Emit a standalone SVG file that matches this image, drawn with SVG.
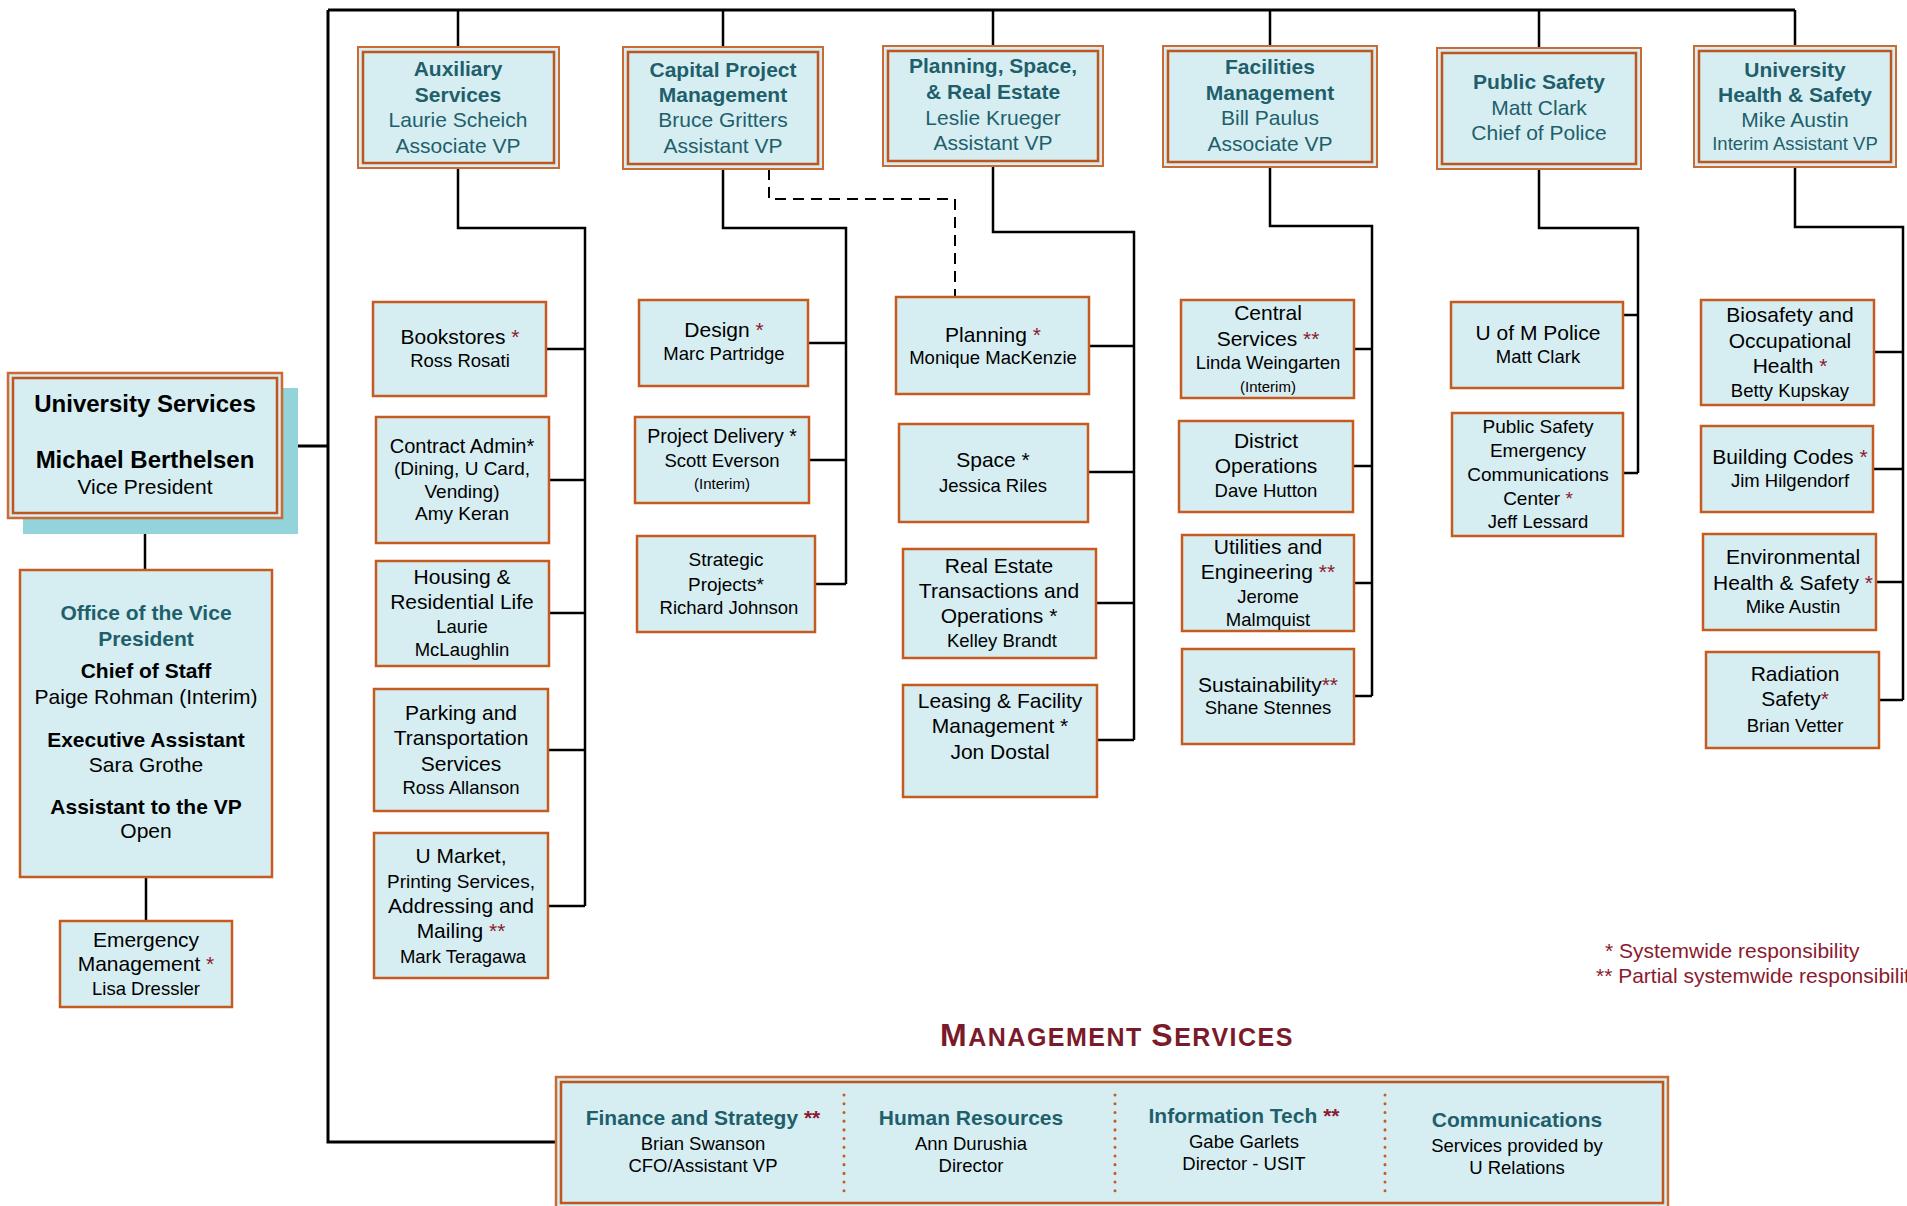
<svg xmlns="http://www.w3.org/2000/svg" width="1907" height="1206" viewBox="0 0 1907 1206">
<style>
.bg{fill:#ffffff}
.box{fill:#D6EEF2;stroke:#C65B20;stroke-width:2.5}
.outer{fill:#D6EEF2;stroke:#CB6A32;stroke-width:2}
.inner{fill:none;stroke:#C0561E;stroke-width:2.5}
.shadow{fill:#93D3DA}
text{font-family:"Liberation Sans",Arial,sans-serif;text-anchor:middle;fill:#000}
.hd{font-weight:bold;fill:#1F5F6B;font-size:21px}
.nm{fill:#1F5F6B;font-size:21px}
.b{font-weight:bold}
.s{fill:#8B1A2E}
.f21{font-size:21px}
.f19{font-size:19px}
.f18{font-size:18.5px}
.f15{font-size:15px}
.ln{stroke:#000;stroke-width:2.5;fill:none}
.bus{stroke:#000;stroke-width:3;fill:none}
.dash{stroke:#000;stroke-width:2;fill:none;stroke-dasharray:11 7}
.dot{stroke:#C65B20;stroke-width:3;stroke-linecap:round;stroke-dasharray:0.1 8.6;fill:none}
.leg{fill:#8B1A2E;font-size:21px;text-anchor:start}
.ttl{fill:#7A1A2B;font-weight:bold}
</style>
<rect class="bg" x="0" y="0" width="1907" height="1206"/>

<g id="connectors">
  <path class="bus" d="M328,10 H1795 M328,10 V1142 H556 M281,446 H328"/>
  <path class="ln" d="M458,10 V47 M723,10 V47 M993,10 V46 M1270,10 V46 M1539,10 V48 M1795,10 V46"/>
  <path class="ln" d="M145,518 V570 M146,877 V921"/>
  <path class="ln" d="M458,168 V228 H585 V906 M546,349 H585 M549,480 H585 M549,613 H585 M548,750 H585 M548,906 H585"/>
  <path class="ln" d="M723,169 V228 H846 V584 M808,343 H846 M809,460 H846 M815,584 H846"/>
  <path class="dash" d="M769,169 V199 H955 V297"/>
  <path class="ln" d="M993,166 V232 H1134 V740 M1089,346 H1134 M1088,472 H1134 M1096,603 H1134 M1097,740 H1134"/>
  <path class="ln" d="M1270,167 V226 H1372 V696 M1354,349 H1372 M1353,466 H1372 M1354,583 H1372 M1354,696 H1372"/>
  <path class="ln" d="M1539,169 V228 H1638 V473 M1623,315 H1638 M1623,473 H1638"/>
  <path class="ln" d="M1795,167 V227 H1903 V700 M1874,352 H1903 M1873,469 H1903 M1876,582 H1903 M1879,700 H1903"/>
</g>

<g id="vp">
  <rect class="shadow" x="23" y="388" width="275" height="146"/>
  <rect class="outer" x="8" y="373" width="274" height="145" style="stroke-width:2.5"/>
  <rect class="inner" x="13" y="378" width="264" height="135"/>
  <text x="145" y="412" class="b" style="font-size:24px">University Services</text>
  <text x="145" y="468" class="b" style="font-size:24px">Michael Berthelsen</text>
  <text x="145" y="494" class="f21">Vice President</text>
</g>

<g id="office">
  <rect class="box" x="20" y="570" width="252" height="307"/>
  <text x="146" y="620" class="hd">Office of the Vice</text>
  <text x="146" y="646" class="hd">President</text>
  <text x="146" y="678" class="b f21">Chief of Staff</text>
  <text x="146" y="704" class="f21">Paige Rohman (Interim)</text>
  <text x="146" y="747" class="b f21">Executive Assistant</text>
  <text x="146" y="772" class="f21">Sara Grothe</text>
  <text x="146" y="814" class="b f21">Assistant to the VP</text>
  <text x="146" y="838" class="f21">Open</text>
</g>

<g id="emergency">
  <rect class="box" x="60" y="921" width="172" height="86"/>
  <text x="146" y="947" class="f21">Emergency</text>
  <text x="146" y="971" class="f21">Management <tspan class="s">*</tspan></text>
  <text x="146" y="995" class="f18">Lisa Dressler</text>
</g>

<g id="auxiliary">
  <rect class="outer" x="358" y="47" width="201" height="121"/>
  <rect class="inner" x="363" y="52" width="191" height="111"/>
  <text x="458" y="76" class="hd">Auxiliary</text>
  <text x="458" y="102" class="hd">Services</text>
  <text x="458" y="127" class="nm">Laurie Scheich</text>
  <text x="458" y="153" class="nm">Associate VP</text>
</g>

<g id="capital">
  <rect class="outer" x="623" y="47" width="200" height="122"/>
  <rect class="inner" x="628" y="52" width="190" height="112"/>
  <text x="723" y="77" class="hd">Capital Project</text>
  <text x="723" y="102" class="hd">Management</text>
  <text x="723" y="127" class="nm">Bruce Gritters</text>
  <text x="723" y="153" class="nm">Assistant VP</text>
</g>

<g id="planning-space">
  <rect class="outer" x="883" y="46" width="220" height="120"/>
  <rect class="inner" x="888" y="51" width="210" height="110"/>
  <text x="993" y="73" class="hd">Planning, Space,</text>
  <text x="993" y="99" class="hd">&amp; Real Estate</text>
  <text x="993" y="125" class="nm">Leslie Krueger</text>
  <text x="993" y="150" class="nm">Assistant VP</text>
</g>

<g id="facilities">
  <rect class="outer" x="1163" y="46" width="214" height="121"/>
  <rect class="inner" x="1168" y="51" width="204" height="111"/>
  <text x="1270" y="74" class="hd">Facilities</text>
  <text x="1270" y="100" class="hd">Management</text>
  <text x="1270" y="125" class="nm">Bill Paulus</text>
  <text x="1270" y="151" class="nm">Associate VP</text>
</g>

<g id="public-safety">
  <rect class="outer" x="1437" y="48" width="204" height="121"/>
  <rect class="inner" x="1442" y="53" width="194" height="111"/>
  <text x="1539" y="89" class="hd">Public Safety</text>
  <text x="1539" y="115" class="nm">Matt Clark</text>
  <text x="1539" y="140" class="nm">Chief of Police</text>
</g>

<g id="health-safety">
  <rect class="outer" x="1694" y="46" width="202" height="121"/>
  <rect class="inner" x="1699" y="51" width="192" height="111"/>
  <text x="1795" y="77" class="hd">University</text>
  <text x="1795" y="102" class="hd">Health &amp; Safety</text>
  <text x="1795" y="127" class="nm">Mike Austin</text>
  <text x="1795" y="150" class="nm" style="font-size:18.5px">Interim Assistant VP</text>
</g>

<g id="bookstores">
  <rect class="box" x="373" y="302" width="173" height="94"/>
  <text x="460" y="344" class="f21">Bookstores <tspan class="s">*</tspan></text>
  <text x="460" y="367" class="f18">Ross Rosati</text>
</g>
<g id="contract-admin">
  <rect class="box" x="376" y="417" width="173" height="126"/>
  <text x="462" y="453" style="font-size:20px">Contract Admin*</text>
  <text x="462" y="475" class="f19">(Dining, U Card,</text>
  <text x="462" y="498" class="f19">Vending)</text>
  <text x="462" y="520" class="f19">Amy Keran</text>
</g>
<g id="housing">
  <rect class="box" x="376" y="561" width="173" height="105"/>
  <text x="462" y="584" class="f21">Housing &amp;</text>
  <text x="462" y="609" class="f21">Residential Life</text>
  <text x="462" y="633" class="f18">Laurie</text>
  <text x="462" y="656" class="f18">McLaughlin</text>
</g>
<g id="parking">
  <rect class="box" x="374" y="689" width="174" height="122"/>
  <text x="461" y="720" class="f21">Parking and</text>
  <text x="461" y="745" class="f21">Transportation</text>
  <text x="461" y="771" class="f21">Services</text>
  <text x="461" y="794" class="f18">Ross Allanson</text>
</g>
<g id="umarket">
  <rect class="box" x="374" y="833" width="174" height="145"/>
  <text x="461" y="863" class="f21">U Market,</text>
  <text x="461" y="888" class="f19">Printing Services,</text>
  <text x="461" y="913" class="f21">Addressing and</text>
  <text x="461" y="938" class="f21">Mailing <tspan class="s">**</tspan></text>
  <text x="463" y="963" class="f18">Mark Teragawa</text>
</g>

<g id="design">
  <rect class="box" x="639" y="300" width="169" height="86"/>
  <text x="724" y="337" class="f21">Design <tspan class="s">*</tspan></text>
  <text x="724" y="360" class="f18">Marc Partridge</text>
</g>
<g id="project-delivery">
  <rect class="box" x="635" y="417" width="174" height="86"/>
  <text x="722" y="443" style="font-size:19.5px">Project Delivery *</text>
  <text x="722" y="467" class="f18">Scott Everson</text>
  <text x="722" y="489" class="f15">(Interim)</text>
</g>
<g id="strategic">
  <rect class="box" x="637" y="536" width="178" height="96"/>
  <text x="726" y="566" class="f19">Strategic</text>
  <text x="726" y="591" class="f19">Projects*</text>
  <text x="729" y="614" class="f18">Richard Johnson</text>
</g>

<g id="planning">
  <rect class="box" x="896" y="297" width="193" height="97"/>
  <text x="993" y="342" class="f21">Planning <tspan class="s">*</tspan></text>
  <text x="993" y="364" class="f18">Monique MacKenzie</text>
</g>
<g id="space">
  <rect class="box" x="899" y="424" width="189" height="98"/>
  <text x="993" y="467" class="f21">Space *</text>
  <text x="993" y="492" class="f18">Jessica Riles</text>
</g>
<g id="real-estate">
  <rect class="box" x="903" y="549" width="193" height="109"/>
  <text x="999" y="573" class="f21">Real Estate</text>
  <text x="999" y="598" class="f21">Transactions and</text>
  <text x="999" y="623" class="f21">Operations *</text>
  <text x="1002" y="647" class="f18">Kelley Brandt</text>
</g>
<g id="leasing">
  <rect class="box" x="903" y="685" width="194" height="112"/>
  <text x="1000" y="708" class="f21">Leasing &amp; Facility</text>
  <text x="1000" y="733" class="f21">Management *</text>
  <text x="1000" y="759" class="f21">Jon Dostal</text>
</g>

<g id="central-services">
  <rect class="box" x="1181" y="300" width="173" height="98"/>
  <text x="1268" y="320" class="f21">Central</text>
  <text x="1268" y="346" class="f21">Services <tspan class="s">**</tspan></text>
  <text x="1268" y="369" class="f18">Linda Weingarten</text>
  <text x="1268" y="392" class="f15">(Interim)</text>
</g>
<g id="district">
  <rect class="box" x="1179" y="421" width="174" height="91"/>
  <text x="1266" y="448" class="f21">District</text>
  <text x="1266" y="473" class="f21">Operations</text>
  <text x="1266" y="497" class="f18">Dave Hutton</text>
</g>
<g id="utilities">
  <rect class="box" x="1182" y="535" width="172" height="96"/>
  <text x="1268" y="554" class="f21">Utilities and</text>
  <text x="1268" y="579" class="f21">Engineering <tspan class="s">**</tspan></text>
  <text x="1268" y="603" class="f18">Jerome</text>
  <text x="1268" y="626" class="f18">Malmquist</text>
</g>
<g id="sustainability">
  <rect class="box" x="1182" y="649" width="172" height="95"/>
  <text x="1268" y="692" class="f21">Sustainability<tspan class="s">**</tspan></text>
  <text x="1268" y="714" class="f18">Shane Stennes</text>
</g>

<g id="uofm-police">
  <rect class="box" x="1451" y="302" width="172" height="86"/>
  <text x="1538" y="340" class="f21">U of M Police</text>
  <text x="1538" y="363" class="f18">Matt Clark</text>
</g>
<g id="psec">
  <rect class="box" x="1452" y="413" width="171" height="123"/>
  <text x="1538" y="433" class="f19">Public Safety</text>
  <text x="1538" y="457" class="f19">Emergency</text>
  <text x="1538" y="481" class="f19">Communications</text>
  <text x="1538" y="505" class="f19">Center <tspan class="s">*</tspan></text>
  <text x="1538" y="528" class="f18">Jeff Lessard</text>
</g>

<g id="biosafety">
  <rect class="box" x="1701" y="300" width="173" height="105"/>
  <text x="1790" y="322" class="f21">Biosafety and</text>
  <text x="1790" y="348" class="f21">Occupational</text>
  <text x="1790" y="373" class="f21">Health <tspan class="s">*</tspan></text>
  <text x="1790" y="397" class="f18">Betty Kupskay</text>
</g>
<g id="building-codes">
  <rect class="box" x="1701" y="426" width="172" height="86"/>
  <text x="1790" y="464" class="f21">Building Codes <tspan class="s">*</tspan></text>
  <text x="1790" y="487" class="f18">Jim Hilgendorf</text>
</g>
<g id="environmental">
  <rect class="box" x="1703" y="534" width="173" height="96"/>
  <text x="1793" y="564" class="f21">Environmental</text>
  <text x="1793" y="590" class="f21">Health &amp; Safety <tspan class="s">*</tspan></text>
  <text x="1793" y="613" class="f18">Mike Austin</text>
</g>
<g id="radiation">
  <rect class="box" x="1706" y="652" width="173" height="96"/>
  <text x="1795" y="681" class="f21">Radiation</text>
  <text x="1795" y="706" class="f21">Safety<tspan class="s">*</tspan></text>
  <text x="1795" y="732" class="f18">Brian Vetter</text>
</g>

<g id="legend">
  <text x="1605" y="958" class="leg">* Systemwide responsibility</text>
  <text x="1596" y="983" class="leg">** Partial systemwide responsibility</text>
</g>

<g id="management-title">
  <text x="1117" y="1046" class="ttl" style="letter-spacing:1.5px"><tspan style="font-size:32px">M</tspan><tspan style="font-size:25px">ANAGEMENT </tspan><tspan style="font-size:32px">S</tspan><tspan style="font-size:25px">ERVICES</tspan></text>
</g>

<g id="management-services">
  <rect class="outer" x="556" y="1077" width="1112" height="140" style="stroke-width:2.5"/>
  <rect class="inner" x="561" y="1082" width="1102" height="121"/>
  <path class="dot" d="M844,1095 V1192 M1115,1095 V1192 M1385,1095 V1192"/>
  <text x="703" y="1125" class="hd">Finance and Strategy <tspan class="s">**</tspan></text>
  <text x="703" y="1150" class="f18">Brian Swanson</text>
  <text x="703" y="1172" class="f18">CFO/Assistant VP</text>
  <text x="971" y="1125" class="hd">Human Resources</text>
  <text x="971" y="1150" class="f18">Ann Durushia</text>
  <text x="971" y="1172" class="f18">Director</text>
  <text x="1244" y="1123" class="hd">Information Tech <tspan class="s">**</tspan></text>
  <text x="1244" y="1148" class="f18">Gabe Garlets</text>
  <text x="1244" y="1170" class="f18">Director - USIT</text>
  <text x="1517" y="1127" class="hd">Communications</text>
  <text x="1517" y="1152" class="f18">Services provided by</text>
  <text x="1517" y="1174" class="f18">U Relations</text>
</g>
</svg>
